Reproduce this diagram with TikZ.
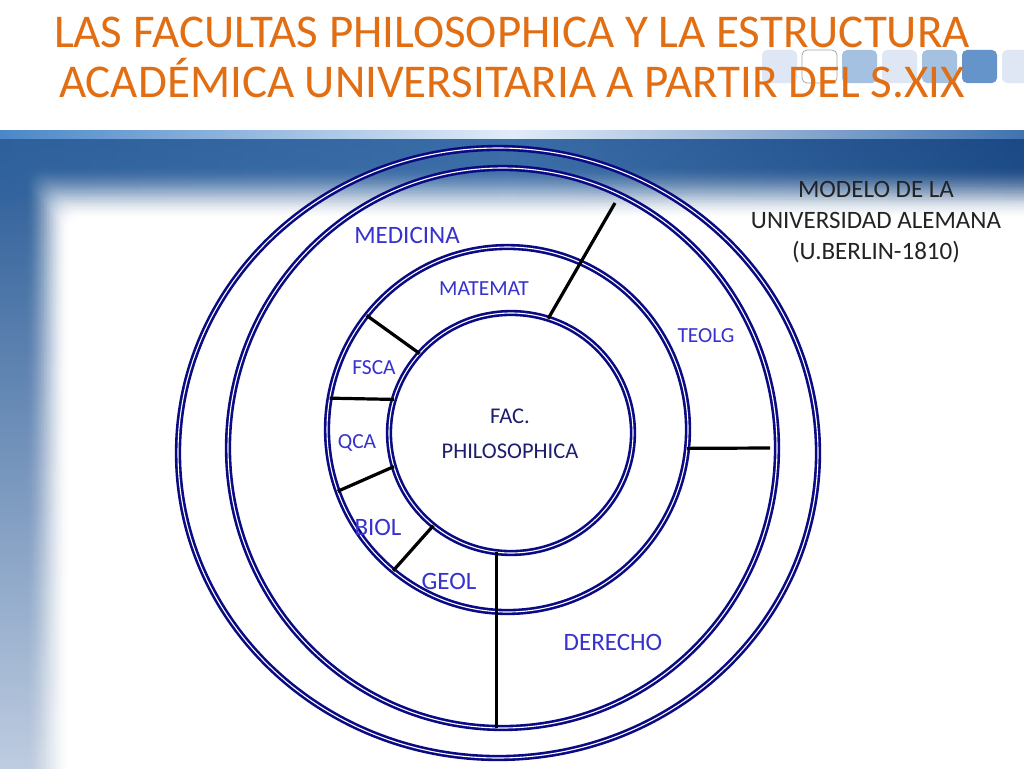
\documentclass[tikz,border=0pt]{standalone}
\usepackage{fontspec}
\setmainfont{Carlito}
\usetikzlibrary{positioning,shapes.geometric}
\definecolor{navy}{RGB}{10,10,130}
\definecolor{lblblue}{RGB}{55,50,205}
\definecolor{philoblue}{RGB}{30,30,110}
\definecolor{modelogray}{RGB}{35,35,35}
\definecolor{titleorange}{RGB}{226,110,20}
\definecolor{stripL}{RGB}{75,135,200}
\definecolor{stripM}{RGB}{225,236,248}
\definecolor{stripR}{RGB}{65,115,175}
\definecolor{bandTop}{RGB}{40,90,150}
\definecolor{bandBot}{RGB}{190,204,224}
\definecolor{bandL}{RGB}{50,100,160}
\definecolor{bandM}{RGB}{70,120,178}
\definecolor{bandR}{RGB}{18,62,122}
\definecolor{tileA}{RGB}{222,231,243}
\definecolor{tileB}{RGB}{165,193,226}
\definecolor{tileC}{RGB}{100,148,202}
\tikzset{
	ring/.style={draw=navy, ellipse, inner sep=0pt, outer sep=0pt,
			line width=2.6pt, double=white, double distance=1.1pt},
	sep/.style={draw=black, line width=3.2pt},
	lbl/.style={text=lblblue, inner sep=0pt, font=\fontsize{25}{30}\selectfont},
	lblsmall/.style={lbl, font=\fontsize{21.5}{26}\selectfont},
	tile/.style={rounded corners=5pt},
}
\begin{document}
\begin{tikzpicture}[x=1pt,y=-1pt]
		\useasboundingbox (0,0) rectangle (1024,768);

		% Background
		\fill[white] (0,0) rectangle (1024,768);
		\shade[left color=stripL, right color=stripR, middle color=stripM]
		(0,130) rectangle (1024,139);
		\shade[top color=bandTop, bottom color=bandBot] (0,139) rectangle (1024,768);
		\shade[left color=bandL, right color=bandR, middle color=bandM, opacity=0.6]
		(0,139) rectangle (1024,200);
		\foreach \m in {29,28,...,0}{
			\pgfmathsetmacro\op{1-(3*(\m/30)^2-2*(\m/30)^3)/(3*((\m+1)/30)^2-2*((\m+1)/30)^3)}
			\fill[white, opacity=\op, rounded corners=14pt]
			({68-1.5*\m},{218-1.8*\m}) rectangle (1040,790);
		}

		% Tiles
		\foreach \x/\c in {762/tileA, 842/tileB, 882/tileA, 922/tileB, 962/tileC, 1002/tileA}
		\fill[tile, \c] (\x,50) rectangle ++(35,33);
		\draw[tile, fill=white, draw=gray!70, line width=0.8pt] (802,50) rectangle ++(35,33);

		% Title
		\node[font=\fontsize{47}{50}\selectfont, text=titleorange,
			align=center] (title) at (512,57)
		{LAS FACULTAS PHILOSOPHICA Y LA ESTRUCTURA\\ACADÉMICA UNIVERSITARIA A PARTIR DEL S.XIX};

		% Rings
		\node[ring, minimum width=640pt, minimum height=610pt] (ringout) at (498,453) {};
		\node[ring, minimum width=549pt, minimum height=560pt] (ringfac) at (502.5,448) {};
		\node[ring, minimum width=361pt, minimum height=365pt] (ringmid) at (507.5,429.5) {};
		\node[ring, minimum width=244pt, minimum height=240pt] (philo) at (511,433) {};

		% Separators
		\coordinate (teolgend) at (615,203);
		\coordinate (derechoend) at (770,448);
		\draw[sep] (philo.72.3) -- (teolgend);
		\draw[sep] (ringmid.354.2) -- (derechoend);
		\draw[sep] (philo.263.3) -- (philo.263.3 |- ringfac.south);
		\draw[sep] (ringmid.141.7) -- (philo.139.3);
		\draw[sep] (ringmid.170.7) -- (philo.164.5);
		\draw[sep] (ringmid.200.2) -- (philo.196.8);
		\draw[sep] (ringmid.231.2) -- (philo.230.5);

		% Labels
		\node[lbl] (medicina) at (407,235) {MEDICINA};
		\node[lblsmall] (matemat) at (484,289) {MATEMAT};
		\node[lblsmall] (teolg) at (706,336) {TEOLG};
		\node[lblsmall] (fsca) at (374,368) {FSCA};
		\node[lblsmall] (qca) at (357,443) {QCA};
		\node[lbl] (biol) at (378,527) {BIOL};
		\node[lbl] (geol) at (449,581) {GEOL};
		\node[lbl] (derecho) at (613,642) {DERECHO};
		\node[text=philoblue, font=\fontsize{22.5}{35}\selectfont, align=center,
			inner sep=0pt] (facname) at (510,434) {FAC.\\PHILOSOPHICA};
		\node[text=modelogray, font=\fontsize{25}{31}\selectfont, align=center,
			inner sep=0pt] (modelo) at (876,222)
		{MODELO DE LA\\UNIVERSIDAD ALEMANA\\(U.BERLIN-1810)};
	\end{tikzpicture}
\end{document}
